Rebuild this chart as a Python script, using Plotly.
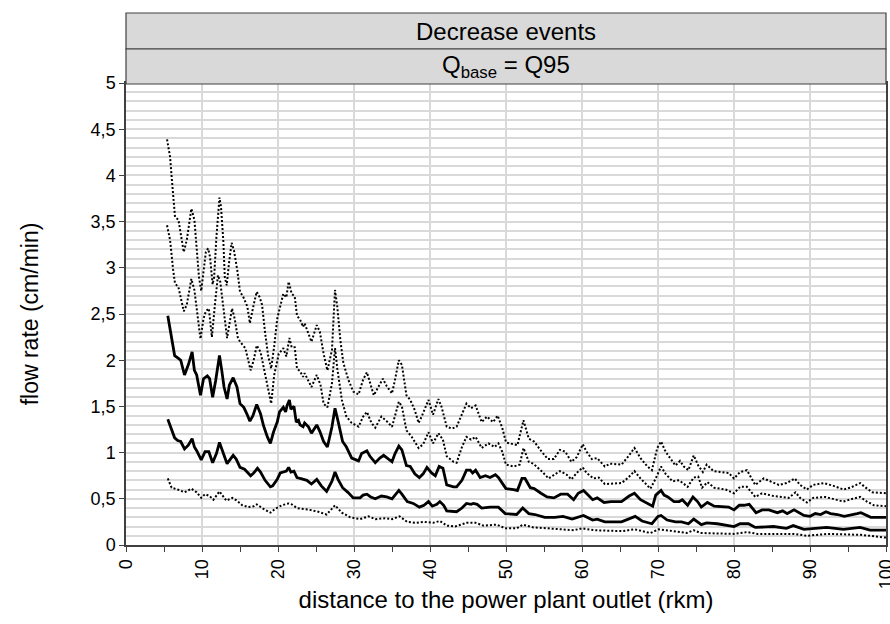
import plotly.graph_objects as go

# ---- data (distance in rkm, flow rate in cm/min) ----
upper_dotted = [(5.4,4.39),(5.8,4.2),(6.0,3.99),(6.3,3.66),(6.45,3.55),(6.9,3.52),(7.3,3.34),(7.6,3.17),(8.0,3.30),(8.3,3.48),(8.6,3.64),(9.0,3.52),(9.3,3.21),(9.6,2.90),(9.9,2.75),(10.2,2.96),(10.5,3.17),(10.8,3.21),(11.05,3.12),(11.4,2.82),(11.6,2.90),(11.9,3.34),(12.3,3.76),(12.5,3.66),(12.8,3.30),(13.0,2.90),(13.25,2.81),(13.55,3.05),(13.9,3.27),(14.2,3.19),(14.65,2.97),(15.0,2.74),(15.4,2.69),(15.97,2.58),(16.3,2.40),(16.8,2.6),(17.2,2.74),(17.6,2.68),(17.9,2.6),(18.3,2.3),(18.7,2.05),(19.1,1.91),(19.5,2.15),(19.9,2.45),(20.3,2.6),(20.7,2.72),(21.1,2.68),(21.4,2.85),(21.8,2.72),(22.2,2.69),(22.5,2.48),(22.9,2.44),(23.3,2.36),(23.5,2.40),(24.4,2.20),(25.1,2.38),(25.5,2.31),(26.0,2.07),(26.5,1.89),(27.1,2.11),(27.5,2.76),(27.8,2.58),(28.2,2.22),(28.6,1.97),(29.25,1.79),(29.9,1.66),(30.6,1.63),(31.2,1.79),(31.7,1.87),(32.1,1.75),(32.6,1.62),(33.2,1.71),(33.8,1.80),(34.3,1.72),(35.0,1.64),(35.4,1.79),(35.9,2.0),(36.3,1.95),(36.9,1.62),(37.4,1.57),(38.0,1.46),(38.5,1.32),(38.9,1.39),(39.8,1.57),(40.4,1.41),(41.1,1.58),(41.5,1.50),(42.2,1.28),(42.9,1.26),(43.5,1.28),(44.2,1.41),(44.8,1.53),(45.4,1.48),(46.0,1.51),(46.8,1.33),(47.5,1.39),(48.3,1.33),(48.9,1.40),(49.5,1.27),(50.0,1.11),(51.5,1.08),(52.3,1.35),(53.0,1.15),(53.7,1.12),(54.6,1.02),(55.5,0.93),(56.3,0.93),(57.1,1.03),(57.8,1.01),(58.6,0.90),(59.3,0.95),(60.1,1.09),(60.6,1.01),(61.3,0.93),(62.0,0.94),(63.0,0.85),(63.7,0.88),(65.2,0.87),(66.1,0.96),(66.9,1.05),(67.7,0.94),(68.6,0.85),(69.2,0.81),(69.9,1.05),(70.4,1.12),(71.0,1.01),(71.6,0.94),(72.3,0.86),(72.9,0.91),(73.4,0.85),(74.0,0.81),(74.7,0.97),(75.3,0.86),(75.9,0.79),(76.4,0.87),(77.3,0.80),(78.2,0.79),(79.3,0.78),(80.0,0.72),(80.8,0.79),(81.7,0.81),(82.8,0.65),(83.9,0.72),(85.0,0.68),(85.9,0.65),(86.9,0.67),(88.0,0.72),(88.7,0.65),(89.6,0.60),(90.4,0.65),(91.8,0.67),(93.1,0.64),(94.4,0.60),(95.3,0.62),(96.6,0.67),(97.5,0.61),(98.2,0.57),(100.0,0.56)]

middle_dotted = [(5.4,3.46),(5.8,3.30),(6.2,2.98),(6.45,2.83),(6.9,2.79),(7.3,2.65),(7.6,2.53),(8.0,2.60),(8.4,2.76),(8.6,2.88),(9.0,2.76),(9.4,2.47),(9.8,2.23),(10.2,2.45),(10.5,2.53),(10.9,2.56),(11.3,2.25),(11.7,2.6),(12.1,2.92),(12.4,2.85),(12.8,2.55),(13.3,2.24),(13.95,2.56),(14.3,2.45),(14.7,2.25),(15.0,2.2),(15.7,2.13),(16.4,1.89),(16.8,2.0),(17.2,2.16),(17.7,2.09),(18.1,1.93),(18.6,1.76),(19.1,1.53),(19.5,1.84),(20.1,2.07),(20.7,2.13),(21.1,2.04),(21.5,2.24),(21.8,2.14),(22.2,2.14),(22.5,1.91),(22.9,1.88),(23.3,1.82),(23.5,1.86),(24.4,1.71),(25.1,1.84),(25.6,1.73),(26.0,1.53),(26.5,1.49),(27.1,1.75),(27.5,2.13),(27.8,1.91),(28.4,1.57),(29.0,1.39),(29.7,1.32),(30.6,1.28),(31.2,1.39),(31.7,1.44),(32.3,1.32),(32.8,1.27),(33.6,1.39),(34.3,1.34),(35.0,1.28),(35.9,1.55),(36.3,1.50),(36.9,1.24),(37.6,1.17),(38.5,1.05),(39.1,1.09),(39.8,1.22),(40.4,1.10),(41.1,1.21),(41.7,1.14),(42.2,0.96),(43.1,0.90),(43.5,0.89),(44.2,1.06),(44.8,1.17),(45.4,1.14),(46.0,1.17),(46.8,1.05),(47.7,1.10),(48.5,1.06),(49.0,1.10),(49.5,1.01),(50.0,0.87),(51.0,0.85),(51.8,0.87),(52.3,1.05),(53.0,0.90),(53.6,0.88),(54.8,0.79),(55.6,0.72),(57.1,0.80),(58.0,0.76),(58.6,0.71),(59.3,0.78),(60.1,0.84),(60.6,0.78),(61.5,0.72),(62.2,0.73),(63.0,0.66),(65.2,0.67),(66.1,0.73),(66.9,0.80),(67.7,0.72),(69.0,0.61),(69.7,0.72),(70.4,0.85),(71.0,0.77),(71.9,0.69),(72.8,0.70),(73.9,0.63),(74.7,0.73),(75.3,0.74),(75.8,0.62),(76.5,0.68),(77.4,0.62),(78.9,0.60),(80.0,0.56),(80.8,0.63),(81.7,0.63),(82.8,0.52),(83.7,0.56),(85.2,0.53),(86.3,0.52),(87.2,0.51),(88.1,0.57),(88.7,0.51),(89.6,0.46),(90.4,0.51),(92.0,0.52),(93.6,0.49),(94.4,0.47),(95.6,0.50),(96.6,0.52),(97.5,0.47),(98.4,0.43),(100.0,0.42)]

upper_solid = [(5.5,2.48),(5.8,2.34),(6.4,2.05),(6.9,2.02),(7.2,2.0),(7.7,1.84),(8.2,1.95),(8.7,2.09),(9.0,1.89),(9.3,1.84),(9.8,1.62),(10.2,1.8),(10.7,1.83),(11.0,1.80),(11.4,1.60),(11.8,1.78),(12.3,2.05),(12.6,1.89),(12.9,1.71),(13.3,1.58),(13.6,1.73),(14.1,1.81),(14.6,1.71),(15.0,1.53),(15.5,1.49),(15.9,1.42),(16.3,1.34),(16.7,1.40),(17.2,1.52),(17.7,1.42),(18.1,1.29),(18.6,1.17),(19.0,1.10),(19.4,1.22),(19.9,1.33),(20.2,1.44),(20.7,1.49),(21.0,1.44),(21.2,1.51),(21.5,1.57),(21.7,1.47),(22.1,1.50),(22.4,1.33),(22.7,1.35),(22.9,1.30),(23.3,1.28),(23.5,1.32),(24.0,1.28),(24.4,1.21),(25.1,1.30),(25.5,1.23),(26.0,1.12),(26.5,1.06),(27.1,1.28),(27.5,1.48),(27.9,1.34),(28.5,1.12),(29.0,1.06),(29.7,0.94),(30.6,0.91),(31.0,0.99),(31.7,1.02),(32.1,0.96),(32.8,0.89),(33.4,0.94),(33.9,0.97),(34.4,0.94),(35.0,0.90),(35.4,0.99),(35.9,1.07),(36.3,1.03),(36.9,0.86),(37.4,0.85),(38.0,0.77),(38.6,0.73),(39.1,0.77),(39.6,0.84),(40.2,0.78),(40.7,0.75),(41.2,0.85),(41.7,0.83),(42.2,0.65),(43.1,0.63),(43.5,0.63),(44.2,0.70),(44.8,0.81),(45.3,0.81),(45.6,0.78),(46.0,0.81),(46.6,0.73),(47.3,0.75),(47.9,0.73),(48.6,0.76),(49.0,0.73),(49.5,0.67),(50.0,0.61),(51.0,0.60),(51.5,0.59),(52.1,0.72),(52.5,0.72),(53.2,0.62),(53.7,0.61),(54.6,0.56),(55.4,0.52),(56.3,0.51),(57.2,0.55),(58.1,0.55),(58.9,0.49),(59.5,0.56),(60.2,0.59),(60.8,0.54),(61.4,0.49),(62.0,0.51),(62.9,0.46),(63.8,0.47),(65.2,0.47),(66.2,0.53),(66.9,0.56),(67.7,0.49),(68.7,0.45),(69.3,0.42),(69.7,0.54),(70.4,0.59),(70.8,0.54),(71.3,0.52),(72.1,0.47),(72.8,0.47),(73.2,0.49),(73.9,0.43),(74.6,0.52),(75.2,0.47),(75.7,0.41),(76.5,0.46),(77.4,0.42),(78.7,0.41),(79.3,0.41),(80.0,0.38),(80.7,0.43),(81.3,0.43),(82.0,0.44),(82.9,0.35),(83.7,0.38),(84.6,0.38),(85.7,0.35),(86.4,0.37),(87.0,0.34),(87.9,0.38),(88.4,0.36),(89.2,0.32),(90.0,0.31),(90.7,0.34),(91.4,0.33),(92.1,0.36),(92.7,0.34),(93.6,0.33),(94.5,0.31),(95.4,0.33),(96.2,0.34),(96.7,0.35),(97.3,0.33),(98.0,0.30),(98.9,0.30),(100.0,0.30)]

lower_solid = [(5.5,1.36),(5.8,1.29),(6.4,1.16),(6.8,1.13),(7.2,1.12),(7.7,1.04),(8.2,1.08),(8.7,1.15),(9.0,1.06),(9.3,1.02),(9.9,0.92),(10.4,1.01),(10.9,1.01),(11.4,0.89),(11.9,0.99),(12.3,1.11),(12.8,1.00),(13.3,0.88),(14.1,0.97),(14.5,0.93),(15.0,0.84),(15.6,0.82),(16.4,0.75),(16.8,0.78),(17.3,0.83),(17.7,0.79),(18.3,0.70),(19.0,0.63),(19.3,0.64),(19.9,0.71),(20.3,0.78),(20.7,0.79),(21.1,0.80),(21.4,0.84),(21.7,0.79),(22.1,0.80),(22.5,0.73),(22.9,0.72),(23.4,0.71),(23.8,0.70),(24.4,0.66),(25.1,0.71),(25.7,0.64),(26.4,0.58),(27.1,0.69),(27.5,0.79),(27.9,0.71),(28.5,0.62),(29.2,0.57),(29.9,0.51),(30.8,0.51),(31.2,0.54),(31.7,0.55),(32.2,0.52),(32.8,0.50),(33.6,0.53),(34.3,0.52),(35.0,0.50),(35.4,0.54),(35.9,0.59),(36.3,0.55),(37.0,0.47),(37.8,0.45),(38.6,0.41),(39.2,0.43),(39.8,0.47),(40.3,0.42),(40.9,0.44),(41.3,0.47),(41.8,0.43),(42.2,0.37),(43.1,0.36),(43.5,0.36),(44.2,0.40),(44.8,0.45),(45.4,0.44),(45.7,0.45),(46.2,0.44),(46.8,0.40),(47.9,0.41),(49.0,0.41),(49.9,0.34),(51.4,0.33),(52.2,0.40),(53.0,0.34),(53.8,0.33),(55.1,0.30),(56.4,0.30),(57.5,0.31),(58.7,0.28),(60.2,0.32),(61.4,0.27),(62.0,0.28),(63.0,0.25),(65.2,0.25),(67.0,0.31),(67.9,0.26),(69.2,0.23),(70.0,0.31),(70.4,0.32),(71.2,0.27),(72.3,0.25),(73.1,0.25),(74.0,0.23),(74.7,0.28),(75.7,0.22),(76.4,0.24),(77.8,0.23),(80.0,0.20),(80.8,0.23),(81.9,0.23),(82.8,0.19),(85.2,0.20),(86.9,0.18),(87.8,0.21),(89.2,0.17),(91.3,0.18),(92.2,0.19),(94.4,0.17),(96.6,0.19),(97.9,0.16),(100.0,0.16)]

lower_dotted = [(5.5,0.72),(6.0,0.62),(6.8,0.60),(7.7,0.57),(8.6,0.61),(9.3,0.57),(9.9,0.51),(10.4,0.55),(11.0,0.53),(11.5,0.49),(12.3,0.58),(12.8,0.53),(13.2,0.48),(14.0,0.51),(14.6,0.48),(15.3,0.43),(16.1,0.41),(16.8,0.42),(17.2,0.44),(18.1,0.39),(19.0,0.35),(19.6,0.39),(20.5,0.43),(21.4,0.45),(21.8,0.44),(22.5,0.40),(23.4,0.39),(24.2,0.38),(25.3,0.36),(26.4,0.33),(27.5,0.43),(28.4,0.35),(29.5,0.30),(30.8,0.28),(31.9,0.31),(32.8,0.28),(34.1,0.29),(35.0,0.28),(36.0,0.31),(37.0,0.25),(38.0,0.24),(39.3,0.25),(40.4,0.24),(41.3,0.26),(42.2,0.21),(43.3,0.20),(44.8,0.24),(46.0,0.24),(47.0,0.21),(48.8,0.22),(49.9,0.18),(51.4,0.18),(52.2,0.22),(53.6,0.19),(55.5,0.18),(57.1,0.17),(58.9,0.16),(60.0,0.18),(61.6,0.16),(65.3,0.15),(66.9,0.17),(69.0,0.13),(70.1,0.17),(72.1,0.15),(73.8,0.13),(74.7,0.16),(75.6,0.13),(80.0,0.12),(81.7,0.14),(83.1,0.12),(87.9,0.12),(89.6,0.10),(92.3,0.12),(96.7,0.11),(100.0,0.08)]

series_list = [
    ("upper dotted", upper_dotted, "2px,2px", 2.0),
    ("middle dotted", middle_dotted, "2px,2px", 2.0),
    ("upper solid", upper_solid, "solid", 2.8),
    ("lower solid", lower_solid, "solid", 2.8),
    ("lower dotted", lower_dotted, "2px,2px", 2.0),
]

strip_titles = ["Decrease events", "Q<sub>base</sub> = Q95"]
x_title = "distance to the power plant outlet (rkm)"
y_title = "flow rate (cm/min)"

FONT = "Liberation Sans, Arial, sans-serif"
W, H = 890, 624
M_L, M_R, M_T, M_B = 126, 4, 83, 79

fig = go.Figure()
for name, pts, dash, width in series_list:
    fig.add_trace(go.Scatter(
        x=[p[0] for p in pts], y=[p[1] for p in pts], mode="lines", name=name,
        line=dict(color="black", width=width, dash=dash), showlegend=False,
    ))

grid_col = "#d9d9d9"
fig.update_layout(
    width=W, height=H,
    margin=dict(l=M_L, r=M_R, t=M_T, b=M_B, autoexpand=False),
    paper_bgcolor="white", plot_bgcolor="white",
    separators=", ",
    font=dict(family=FONT, size=18, color="black"),
    xaxis=dict(
        range=[0, 100], dtick=10, tick0=0, tickangle=-90,
        ticks="outside", ticklen=5, tickcolor="#404040", tickwidth=1,
        showgrid=True, gridcolor=grid_col, gridwidth=1.5,
        minor=dict(dtick=5, ticks="outside", ticklen=5, tickcolor="#404040", showgrid=False),
        showline=True, linecolor="#404040", linewidth=2, mirror=True,
        zeroline=False, tickfont=dict(size=18), ticklabeloverflow="allow",
        title=dict(text=x_title, font=dict(size=24), standoff=3),
        automargin=False,
    ),
    yaxis=dict(
        range=[0, 5], dtick=0.5, tick0=0,
        ticks="outside", ticklen=5, tickcolor="#404040", tickwidth=1,
        showgrid=True, gridcolor=grid_col, gridwidth=1.5,
        minor=dict(dtick=0.1, showgrid=True, gridcolor=grid_col, gridwidth=1.5, ticks=""),
        showline=True, linecolor="#404040", linewidth=1.5, mirror=True,
        zeroline=False, tickfont=dict(size=18),
        title=dict(text=y_title, font=dict(size=23), standoff=46),
        automargin=False,
    ),
)

# facet-style strips above plot
plot_h = H - M_T - M_B
def py(pix):
    return (H - M_B - pix) / plot_h

strip_edges = [13, 49, 84]
for i, label in enumerate(strip_titles):
    y0, y1 = py(strip_edges[i + 1]), py(strip_edges[i])
    fig.add_shape(type="rect", xref="paper", yref="paper", x0=0, x1=1, y0=y0, y1=y1,
                  fillcolor="#d9d9d9", line=dict(color="#404040", width=1.2), layer="above")
    fig.add_annotation(text=label, xref="paper", yref="paper", x=0.5, y=(y0 + y1) / 2,
                       showarrow=False, font=dict(size=24, color="black"),
                       xanchor="center", yanchor="middle")

fig.write_html("out.html")
